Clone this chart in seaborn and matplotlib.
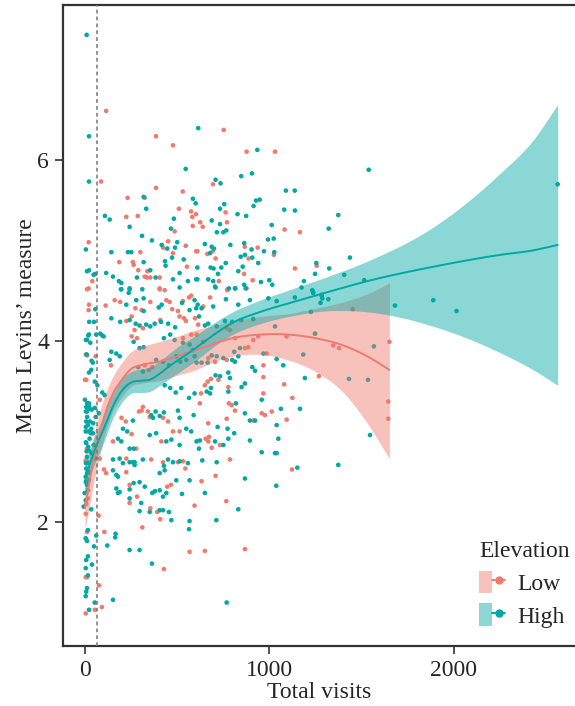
import numpy as np
import pandas as pd
import seaborn as sns
import matplotlib
matplotlib.use("Agg")
import matplotlib.pyplot as plt
from matplotlib.patches import Patch
from matplotlib.lines import Line2D
from matplotlib.legend_handler import HandlerTuple

# ---------------- data ----------------
high_pts = [
    (22,6.26),(546,5.90),(22,5.76),(318,5.59),(585,5.57),(600,5.52),(332,5.46),(108,5.38),(134,5.34),(482,5.35),
    (242,5.26),(466,5.24),(309,5.16),(363,5.11),(416,5.06),(500,5.09),(488,5.03),(446,5.02),(5,5.01),(143,4.98),
    (233,4.98),(251,4.98),(472,4.92),(535,4.90),(318,4.87),(434,4.88),(437,4.83),(354,4.78),(11,4.77),(22,4.78),
    (47,4.73),(56,4.74),(115,4.75),(513,4.75),(152,4.71),(282,4.70),(383,4.70),(477,4.68),(603,4.68),(558,4.66),
    (184,4.66),(197,4.64),(242,4.58),(195,4.57),(513,4.59),
    (614,6.35),(934,6.11),(847,5.82),(905,5.85),(708,5.78),(735,5.74),(1089,5.66),(1137,5.66),(927,5.55),(947,5.56),
    (914,5.49),(755,5.51),(732,5.46),(1080,5.45),(1138,5.44),(827,5.40),(874,5.38),(687,5.33),(732,5.29),(1012,5.28),
    (715,5.20),(750,5.20),(766,5.22),(1321,5.24),(992,5.12),(1023,5.13),(650,5.07),(788,5.06),(863,5.08),(687,5.04),
    (699,5.02),(903,5.01),(970,4.99),(1026,4.98),(678,4.97),(844,4.93),(867,4.95),(907,4.92),(763,4.86),(939,4.86),
    (609,4.81),(681,4.81),(697,4.80),(739,4.81),(855,4.82),(831,4.77),(1254,4.86),(721,4.74),(1324,4.80),(609,4.68),
    (668,4.68),(695,4.66),(954,4.65),(999,4.67),(1015,4.62),(1247,4.74),(1187,4.66),(780,4.58),(815,4.58),(863,4.62),
    (708,4.59),
    (197,4.57),(242,4.57),(237,4.53),(311,4.57),(56,4.35),(278,4.45),(318,4.47),(224,4.40),(416,4.40),(594,4.45),
    (526,4.42),(318,4.33),(567,4.34),(603,4.36),(400,4.37),(143,4.25),(191,4.21),(242,4.23),(275,4.19),(296,4.17),
    (332,4.18),(354,4.16),(378,4.19),(451,4.19),(489,4.15),(412,4.21),(22,4.07),(11,4.01),(29,3.98),(61,4.07),
    (94,4.06),(83,4.08),(101,4.05),(264,3.99),(296,3.92),(318,3.93),(143,3.88),(170,3.86),(188,3.83),(43,3.76),
    (34,3.68),(22,3.65),(134,3.79),(53,3.55),(67,3.51),(94,3.43),(107,3.40),(22,3.31),(7,3.27),(11,3.22),
    (25,3.25),(53,3.26),(76,3.20),(58,3.16),(428,4.03),(462,4.07),(486,4.01),(531,3.98),(567,3.96),(585,3.90),
    (386,3.79),(423,3.77),(455,3.73),(495,3.83),(517,3.77),(549,3.79),(594,3.83),(289,3.71),(314,3.66),(432,3.51),
    (462,3.48),(492,3.43),(522,3.48),(564,3.37),(594,3.42),(359,3.18),(383,3.22),(405,3.17),(369,3.15),(428,3.21),
    (504,3.23),(513,3.15),(589,3.18),(260,3.12),(206,3.03),(229,3.00),(179,2.92),(197,2.89),(242,2.81),(264,2.81),
    (441,2.89),(468,2.91),(513,2.85),(351,2.96),(386,2.98),(549,3.03),(576,3.00),(152,2.69),(188,2.70),(269,2.66),
    (314,2.69),(450,2.69),(477,2.66),(513,2.67),(558,2.65),(7,3.11),(16,3.07),(34,3.03),(4,3.00),(43,2.98),
    (25,2.92),(7,2.87),(47,2.85),(22,2.79),(34,2.76),(11,2.72),(53,2.70),
    (5,4.01),(18,4.06),(23,4.21),(49,4.21),(9,3.85),(36,3.78),(0,3.35),(12,3.31),(23,3.28),(36,3.24),
    (5,3.22),(12,3.16),(27,3.11),(45,3.09),(5,3.05),(18,3.00),(32,2.98),(5,2.88),(18,2.83),(9,2.78),
    (5,2.65),(12,2.54),(5,2.44),
    (705,4.60),(813,4.58),(871,4.58),(611,4.40),(632,4.36),(618,4.27),(695,4.38),(764,4.46),(831,4.40),(894,4.45),
    (994,4.47),(1039,4.44),(1138,4.48),(1174,4.59),(1237,4.54),(1283,4.51),(1286,4.47),(1319,4.46),(1225,4.32),(714,4.16),
    (759,4.22),(798,4.21),(846,4.23),(912,4.24),(668,4.19),(650,4.17),(840,3.92),(809,3.88),(1030,4.16),(967,3.86),
    (1183,3.85),(687,3.84),(714,3.83),(750,3.81),(798,3.79),(813,3.77),(831,3.83),(605,3.76),(632,3.76),(665,3.76),
    (1039,3.80),(1075,3.73),(907,3.71),(922,3.67),(777,3.65),(786,3.59),(732,3.61),(708,3.62),(1192,3.59),(867,3.53),
    (849,3.49),(777,3.44),(683,3.48),(660,3.44),(678,3.42),(958,3.35),(1165,3.25),(1062,3.25),(867,3.20),(894,3.12),
    (922,3.12),(818,3.31),(1039,3.07),(1048,2.92),(1039,2.76),(719,3.05),(773,3.03),(809,2.98),(623,2.90),(605,2.89),
    (705,2.89),(750,2.85),(777,2.92),(618,2.81),(894,2.90),(958,2.77),(1030,2.76),(636,2.68),(714,2.66),
    (152,2.57),(170,2.52),(179,2.50),(260,2.66),(269,2.63),(242,2.66),(206,2.65),(296,2.44),(324,2.39),(264,2.43),
    (242,2.36),(170,2.37),(179,2.32),(188,2.33),(242,2.26),(305,2.21),(296,2.12),(351,2.11),(365,2.32),(379,2.34),
    (405,2.35),(423,2.28),(405,2.13),(423,2.13),(455,2.11),(468,2.02),(405,2.54),(432,2.57),(428,2.62),(495,2.46),
    (526,2.31),(567,2.46),(441,2.32),(567,2.01),(564,1.92),(242,1.69),(296,1.69),(363,1.54),(121,1.74),(166,1.87),
    (164,1.83),(152,1.14),(16,2.65),(7,2.59),(25,2.55),(4,2.50),(22,2.46),(11,2.41),(-2,2.32),(16,2.35),
    (4,2.24),(-7,2.17),(34,2.14),(16,1.91),(4,1.82),(11,1.79),(61,1.85),(49,1.73),(16,1.62),(7,1.58),
    (38,1.53),(4,1.49),(16,1.41),(11,1.27),(7,1.23),(4,1.18),(53,1.11),(22,1.03),
    (1151,2.60),(867,2.48),(1037,2.40),(650,2.32),(831,2.14),(712,2.02),(768,1.11),
    (9,7.38),(1538,5.89),(1373,5.39),(1436,4.92),(1405,4.73),(1514,4.67),(1232,4.56),(1237,4.53),(1283,4.50),(1277,4.42),
    (1680,4.39),(1888,4.45),(2014,4.33),(2562,5.73),(1247,4.08),(1566,3.94),(1431,3.58),(1534,3.57),(1545,2.96),(1373,2.63),
]

low_pts = [
    (115,6.54),(385,6.26),(477,6.16),(87,5.76),(385,5.69),(530,5.65),(324,5.58),(231,5.58),(509,5.46),(575,5.43),
    (582,5.37),(602,5.40),(224,5.37),(286,5.38),(584,5.27),(486,5.21),(20,5.09),(451,5.10),(423,5.03),(546,5.05),
    (300,4.98),(477,4.97),(603,4.99),(186,4.87),(260,4.87),(264,4.84),(553,4.82),(289,4.78),(338,4.77),(324,4.71),
    (336,4.70),(354,4.70),(405,4.70),(40,4.66),(20,4.58),(405,4.58),
    (752,6.33),(876,6.09),(1030,6.09),(694,5.73),(762,5.42),(770,5.31),(625,5.31),(638,5.26),(1082,5.23),(1165,5.20),
    (866,5.04),(936,5.03),(609,4.99),(663,4.96),(692,4.99),(887,4.91),(1024,4.95),(708,4.91),(1256,4.83),(862,4.74),
    (1138,4.80),(726,4.66),(909,4.67),(773,4.57),(876,4.58),
    (11,4.57),(405,4.57),(432,4.56),(161,4.45),(191,4.43),(22,4.40),(20,4.34),(354,4.43),(112,4.39),(441,4.45),
    (459,4.43),(531,4.44),(564,4.48),(576,4.50),(273,4.36),(307,4.34),(473,4.35),(504,4.33),(513,4.27),(537,4.25),
    (224,4.22),(253,4.27),(314,4.14),(408,4.23),(547,4.22),(253,4.05),(269,4.12),(282,4.03),(12,3.84),(58,3.83),
    (141,3.73),(7,3.57),(80,3.35),(531,4.03),(576,4.07),(324,3.73),(347,3.68),(365,3.71),(314,3.27),(293,3.22),
    (307,3.23),(341,3.22),(351,3.16),(423,3.15),(450,3.11),(198,3.15),(221,3.11),(253,2.97),(152,2.89),(278,2.81),
    (414,2.89),(477,3.00),(513,3.00),(224,2.70),(359,2.69),(423,2.66),(531,2.67),(11,2.81),(4,2.68),(80,2.70),
    (5,3.85),(0,3.57),(9,2.67),
    (771,4.56),(678,4.48),(641,4.38),(786,4.12),(768,4.14),(596,4.25),(614,4.18),(605,4.07),(641,3.99),(813,4.03),
    (867,3.92),(885,3.93),(912,4.01),(939,4.05),(1093,4.05),(1247,4.08),(1346,3.95),(985,3.86),(668,3.81),(705,3.77),
    (768,3.79),(967,3.73),(967,3.60),(1080,3.52),(1268,3.61),(683,3.58),(723,3.57),(665,3.55),(650,3.51),(777,3.49),
    (629,3.42),(623,3.31),(967,3.42),(1124,3.37),(1012,3.22),(958,3.20),(976,3.18),(912,3.12),(780,3.31),(795,3.29),
    (813,3.23),(768,3.14),(1093,3.13),(668,3.09),(672,2.94),(654,2.92),(668,2.89),(732,2.85),(687,2.82),(786,2.69),
    (103,2.58),(115,2.54),(224,2.55),(242,2.41),(242,2.21),(282,2.28),(354,2.15),(392,2.11),(408,2.03),(504,2.66),
    (544,2.59),(446,2.39),(466,2.41),(594,2.18),(567,1.67),(428,1.48),(311,1.94),(105,1.89),(74,2.07),(76,1.30),
    (92,1.06),(7,2.20),(16,2.26),(4,2.09),(11,1.89),(4,1.39),(11,1.39),(4,0.99),(53,1.03),
    (1122,2.58),(708,2.51),(632,2.45),(766,2.23),(650,1.68),(867,1.70),
    (1650,3.99),(1377,3.92),(1644,3.33),(1644,3.14),(1451,4.35),
]

# smoothed fits with confidence bands
high_fit_x  = [0, 25, 50, 100, 150, 200, 250, 300, 350, 400, 450, 500, 600, 700, 800, 950, 1130, 1300, 1530, 1890, 2250, 2430, 2562]
high_fit_y  = [2.45, 2.63, 2.78, 3.02, 3.27, 3.45, 3.54, 3.56, 3.57, 3.63, 3.71, 3.78, 3.92, 4.07, 4.20, 4.32, 4.43, 4.53, 4.66, 4.82, 4.95, 5.00, 5.06]
high_fit_hi = [2.62, 2.78, 2.93, 3.17, 3.40, 3.58, 3.66, 3.69, 3.71, 3.77, 3.85, 3.93, 4.06, 4.20, 4.32, 4.45, 4.58, 4.70, 4.88, 5.26, 5.85, 6.22, 6.61]
high_fit_lo = [2.28, 2.48, 2.63, 2.87, 3.14, 3.32, 3.42, 3.43, 3.44, 3.50, 3.57, 3.64, 3.78, 3.94, 4.07, 4.19, 4.28, 4.33, 4.32, 4.16, 3.87, 3.68, 3.51]

low_fit_x  = [0, 25, 50, 75, 100, 150, 200, 250, 300, 400, 500, 600, 700, 800, 950, 1100, 1250, 1400, 1530, 1650]
low_fit_y  = [2.15, 2.45, 2.72, 2.93, 3.13, 3.41, 3.57, 3.69, 3.73, 3.77, 3.83, 3.90, 3.97, 4.03, 4.07, 4.07, 4.03, 3.95, 3.83, 3.68]
low_fit_hi = [2.38, 2.72, 2.98, 3.18, 3.35, 3.60, 3.76, 3.88, 3.93, 3.99, 4.05, 4.12, 4.17, 4.22, 4.27, 4.30, 4.36, 4.43, 4.52, 4.64]
low_fit_lo = [1.92, 2.18, 2.46, 2.68, 2.91, 3.22, 3.38, 3.50, 3.53, 3.56, 3.62, 3.68, 3.77, 3.83, 3.85, 3.79, 3.66, 3.43, 3.09, 2.70]

threshold_x = 65
groups = ["Low", "High"]
x_ticks = [0, 1000, 2000]
y_ticks = [2, 4, 6]


def hermite(xk, yk, xs):
    """Smooth cubic Hermite curve through the read-off knots (for drawing only)."""
    xk = np.asarray(xk, float)
    yk = np.asarray(yk, float)
    m = np.gradient(yk, xk)
    idx = np.clip(np.searchsorted(xk, xs, side="right") - 1, 0, len(xk) - 2)
    h = xk[idx + 1] - xk[idx]
    t = (xs - xk[idx]) / h
    h00 = 2 * t**3 - 3 * t**2 + 1
    h10 = t**3 - 2 * t**2 + t
    h01 = -2 * t**3 + 3 * t**2
    h11 = t**3 - t**2
    return h00 * yk[idx] + h10 * h * m[idx] + h01 * yk[idx + 1] + h11 * h * m[idx + 1]


# ---------------- styling ----------------
sns.set_theme(style="white")
plt.rcParams["font.family"] = ["Liberation Serif", "DejaVu Serif"]
RED = "#F07A6E"
TEAL = "#00A9A4"
palette = {"Low": RED, "High": TEAL}

pts = pd.DataFrame(
    [(x, y, "Low") for x, y in low_pts] + [(x, y, "High") for x, y in high_pts],
    columns=["visits", "levins", "Elevation"],
)

fit_frames = []
for g, fx, fy, flo, fhi in [("Low", low_fit_x, low_fit_y, low_fit_lo, low_fit_hi),
                            ("High", high_fit_x, high_fit_y, high_fit_lo, high_fit_hi)]:
    xs = np.linspace(fx[0], fx[-1], 500)
    fit_frames.append(pd.DataFrame({
        "visits": xs,
        "levins": hermite(fx, fy, xs),
        "lo": hermite(fx, flo, xs),
        "hi": hermite(fx, fhi, xs),
        "Elevation": g,
    }))
fits = pd.concat(fit_frames, ignore_index=True)

fig = plt.figure(figsize=(5.75, 7.06), dpi=100)
ax = fig.add_axes([63 / 575, 60 / 706, 1 - 63 / 575, 641 / 706])

sns.scatterplot(data=pts, x="visits", y="levins", hue="Elevation", palette=palette,
                s=11, linewidth=0, ax=ax, legend=False, zorder=2)

for g in groups:
    sub = fits[fits["Elevation"] == g]
    ax.fill_between(sub["visits"], sub["lo"], sub["hi"], color=palette[g], alpha=0.46,
                    linewidth=0, zorder=3)
sns.lineplot(data=fits, x="visits", y="levins", hue="Elevation", palette=palette,
             linewidth=1.4, ax=ax, legend=False, zorder=4, estimator=None, sort=True)

ax.axvline(threshold_x, color="#777777", linestyle=(0, (2.5, 2)), linewidth=1.1, zorder=5)

ax.set_xlim(-119, 2656)
ax.set_ylim(0.63, 7.71)
ax.set_xticks(x_ticks)
ax.set_yticks(y_ticks)
ax.set_xlabel("Total visits", fontsize=17, labelpad=1)
ax.set_ylabel("Mean Levins\u2019 measure", fontsize=17, labelpad=0.5)
ax.tick_params(axis="both", which="major", labelsize=17, length=6, width=1.2,
               color="#333333", direction="out", pad=4, bottom=True, left=True)
for side in ["left", "bottom", "top"]:
    ax.spines[side].set_visible(True)
    ax.spines[side].set_color("#333333")
    ax.spines[side].set_linewidth(1.6)
ax.spines["right"].set_visible(False)
ax.grid(False)

handles = []
for g in groups:
    handles.append((Patch(facecolor=palette[g], alpha=0.46, edgecolor="none"),
                    Line2D([0], [0], color=palette[g], marker="o", markersize=5, linewidth=1.4)))
leg = ax.legend(handles, groups, title="Elevation", loc="upper left",
                bbox_to_anchor=((470 - 63) / 512, 1 - (532 - 5) / 641), bbox_transform=ax.transAxes,
                frameon=False, fontsize=17, title_fontsize=17, handlelength=1.1, handleheight=1.1,
                handletextpad=0.5, labelspacing=0.35, borderaxespad=0,
                handler_map={tuple: HandlerTuple(ndivide=None, pad=0)})
leg._legend_box.align = "left"

fig.savefig("out.png", dpi=100)
